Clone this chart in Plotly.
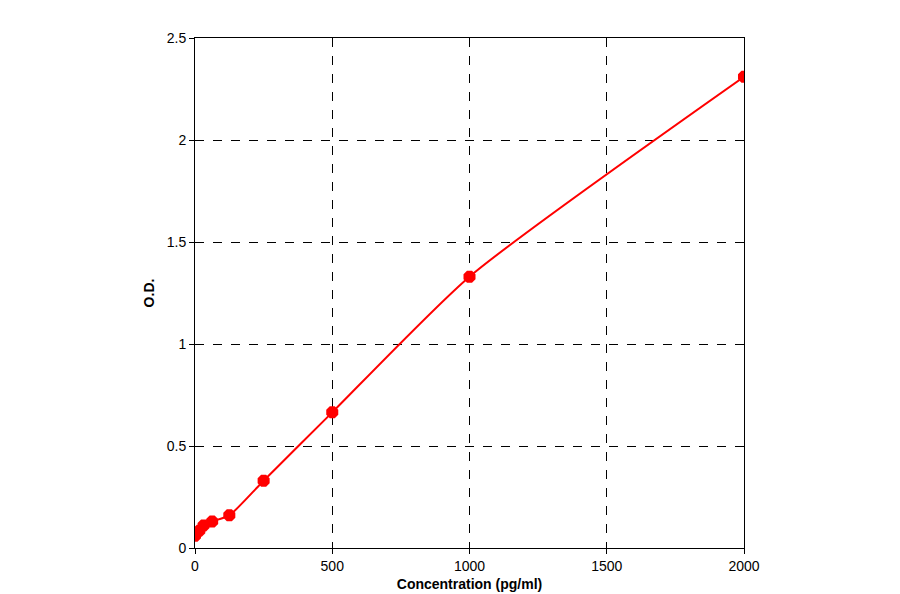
import plotly.graph_objects as go

# Standard curve data
conc = [0, 15.6, 31.25, 62.5, 125, 250, 500, 1000, 2000]
od = [0.06, 0.085, 0.11, 0.13, 0.16, 0.33, 0.665, 1.33, 2.31]

fig = go.Figure()
fig.add_trace(go.Scatter(x=conc, y=od, mode='lines+markers',
                         line=dict(color='#ff0000', width=2, shape='spline', smoothing=0.6),
                         marker=dict(color='#ff0000', size=13, symbol='octagon'),
                         showlegend=False))

axis_common = dict(showline=True, linecolor='black', linewidth=1, mirror=True,
                   showgrid=True, gridcolor='black', griddash='dash', gridwidth=1,
                   ticks='outside', ticklen=5, tickcolor='black', zeroline=False,
                   tickfont=dict(family='Liberation Sans, Arial', size=14, color='black'))

fig.update_xaxes(range=[0, 2000], dtick=500, **axis_common,
                 title=dict(text='<b>Concentration (pg/ml)</b>', standoff=6,
                            font=dict(family='Liberation Sans, Arial', size=14, color='black')))
fig.update_yaxes(range=[0, 2.5], dtick=0.5, **axis_common,
                 title=dict(text='<b>O.D.</b>', standoff=8,
                            font=dict(family='Liberation Sans, Arial', size=14, color='black')))

fig.update_layout(width=900, height=594, plot_bgcolor='white', paper_bgcolor='white',
                  margin=dict(l=187, r=164, t=30, b=49))

fig.write_html("out.html")
